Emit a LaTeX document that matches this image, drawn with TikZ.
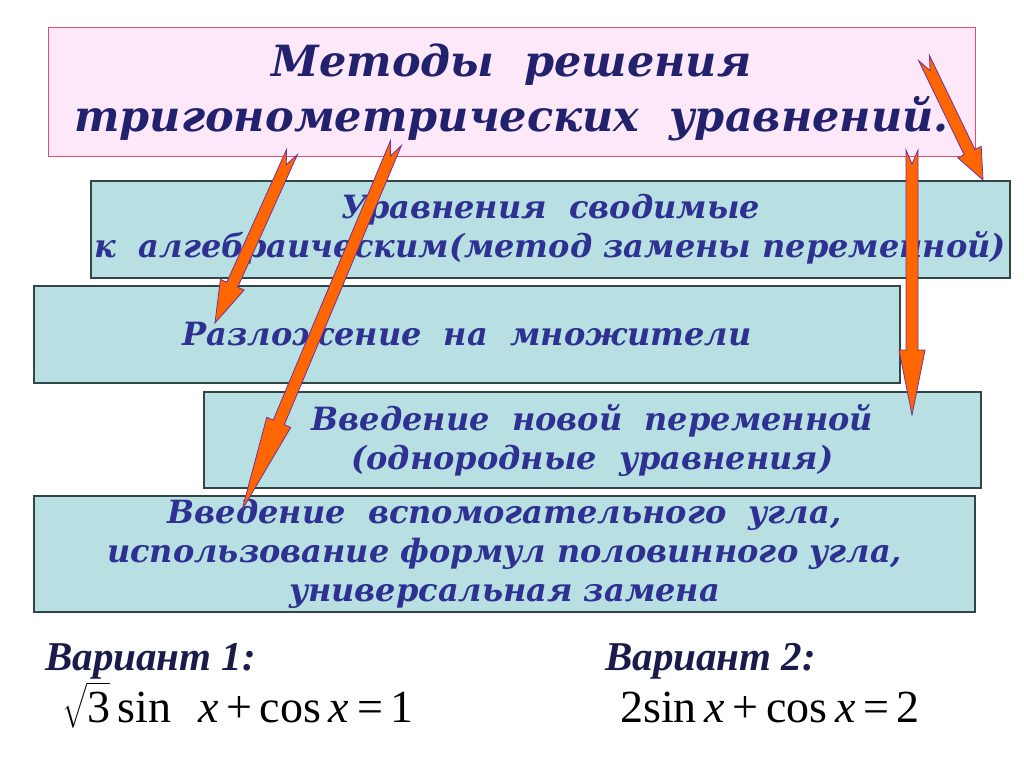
\documentclass[tikz,border=0pt]{standalone}
\usepackage{amsmath}
\usepackage{fontspec}
\setmainfont{DejaVu Serif}
\newfontfamily\varfont{Liberation Serif}
\usetikzlibrary{positioning,calc}
\definecolor{boxfill}{RGB}{184,223,226}
\definecolor{boxline}{RGB}{50,70,72}
\definecolor{titlefill}{RGB}{252,232,248}
\definecolor{titleline}{RGB}{224,80,110}
\definecolor{boxtext}{RGB}{46,49,146}
\definecolor{titletext}{RGB}{33,33,110}
\definecolor{vartext}{RGB}{27,27,75}
\definecolor{arrowfill}{RGB}{255,102,0}
\definecolor{arrowline}{RGB}{112,48,160}
\tikzset{
    titlebox/.style = {
        draw=titleline,
        fill=titlefill,
        shape=rectangle,
        line width=1pt,
        align=center,
        text=titletext,
        font=\fontsize{43}{55}\selectfont\bfseries\itshape
    },
    methodbox/.style = {
        draw=boxline,
        fill=boxfill,
        shape=rectangle,
        line width=1.5pt,
        align=center,
        text=boxtext,
        font=\fontsize{32}{39}\selectfont\bfseries\itshape
    },
    variant/.style = {
        anchor=base west,
        inner sep=0pt,
        text=vartext,
        font=\varfont\fontsize{41}{44}\selectfont\bfseries\itshape
    },
    formula/.style = {
        anchor=base west,
        inner sep=0pt,
        font=\varfont\fontsize{46}{50}\selectfont
    },
    blockarrow/.style = {
        draw=arrowline,
        fill=arrowfill,
        line width=0.8pt,
        line join=miter
    },
}
% block arrow with a notched tail: start, end, head length
\newcommand{\blockarrow}[3]{%
    \coordinate (ba-b) at ($(#2)!#3!(#1)$);
    \path[blockarrow] ($(#1)!6pt!90:(#2)$) -- ($(ba-b)!6pt!-90:(#1)$)
        -- ($(ba-b)!13pt!-90:(#1)$) -- (#2) -- ($(ba-b)!13pt!90:(#1)$)
        -- ($(ba-b)!6pt!90:(#1)$) -- ($(#1)!6pt!-90:(#2)$)
        -- ($(#1)!14pt!(#2)$) -- cycle;
}
\begin{document}
\begin{tikzpicture}[x=1pt,y=-1pt]
    \useasboundingbox (0,0) rectangle (1024,767);

    \node[titlebox, minimum width=927, minimum height=129] (title) at (511.5,92.5)
        {Методы\ \ решения\\тригонометрических\ \ уравнений.};

    \node[methodbox, minimum width=919, minimum height=97] (zamena) at (550.5,229.5)
        {Уравнения\ \ сводимые\\к\ \ алгебраическим(метод замены переменной)};
    \node[methodbox, minimum width=866, minimum height=97] (razlozh) at (467,334.5)
        {Разложение\ \ на\ \ множители};
    \node[methodbox, minimum width=777, minimum height=96] (novaya) at (592.5,440)
        {Введение\ \ новой\ \ переменной\\(однородные\ \ уравнения)};
    \node[methodbox, minimum width=941, minimum height=116] (ugol) at (504.5,554)
        {Введение\ \ вспомогательного\ \ угла,\\использование формул половинного угла,\\универсальная замена};

    \node[variant] (var1) at (45,670) {Вариант 1:};
    \node[variant] (var2) at (605,670) {Вариант 2:};
    \node[formula] (form1) at (62,722) {$\sqrt{\mbox{3}}$\,sin\,\, \textit{x}\,+\,cos\,\textit{x}\,=\,1};
    \node[formula] (form2) at (620,722) {2sin\,\textit{x}\,+\,cos\,\textit{x}\,=\,2};

    % arrows from the title to the methods
    \coordinate (to-razlozh-s) at (292,152);
    \coordinate (to-razlozh-e) at (215,323);
    \coordinate (to-ugol-s) at (396,143);
    \coordinate (to-ugol-e) at (242,510);
    \coordinate (to-novaya-s) at (912,150);
    \coordinate (to-novaya-e) at (912,415);
    \coordinate (to-zamena-s) at (924,58);
    \coordinate (to-zamena-e) at (983,180);

    \blockarrow{to-razlozh-s}{to-razlozh-e}{42pt}
    \blockarrow{to-ugol-s}{to-ugol-e}{95pt}
    \blockarrow{to-novaya-s}{to-novaya-e}{65pt}
    \blockarrow{to-zamena-s}{to-zamena-e}{31pt}
\end{tikzpicture}
\end{document}
